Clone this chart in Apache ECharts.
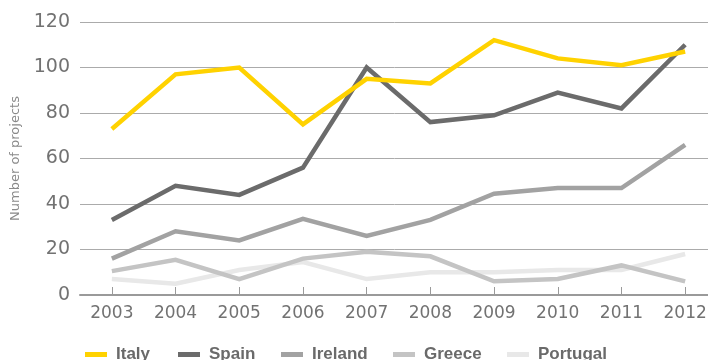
<!DOCTYPE html>
<html>
<head>
<meta charset="utf-8">
<script src="https://cdn.jsdelivr.net/npm/echarts@6/dist/echarts.min.js"></script>
<style>
  html, body { margin: 0; padding: 0; background: #ffffff; }
  #chart { width: 708px; height: 360px; }
</style>
</head>
<body>
<div id="chart"></div>
<script>
// Projects per year by country
const years = ['2003', '2004', '2005', '2006', '2007', '2008', '2009', '2010', '2011', '2012'];
const italy    = [73, 97, 100, 75, 95, 93, 112, 104, 101, 107];
const spain    = [33, 48, 44, 56, 100, 76, 79, 89, 82, 110];
const ireland  = [16, 28, 24, 33.5, 26, 33, 44.5, 47, 47, 66];
const greece   = [10.5, 15.5, 7, 16, 19, 17, 6, 7, 13, 6];
const portugal = [7, 5, 11, 14.5, 7, 10, 10, 11, 11, 18];
const yTicks   = [0, 20, 40, 60, 80, 100, 120];

const seriesDefs = [
  { name: 'Italy',    data: italy,    color: '#ffd200', z: 6 },
  { name: 'Spain',    data: spain,    color: '#6b6b6b', z: 5 },
  { name: 'Ireland',  data: ireland,  color: '#a2a2a2', z: 4 },
  { name: 'Greece',   data: greece,   color: '#c4c4c4', z: 3 },
  { name: 'Portugal', data: portugal, color: '#e8e8e8', z: 2 }
];

// one legend entry per series, laid out in a single row along the bottom
const legendLeft = [80, 173, 276, 388, 502];

const chart = echarts.init(document.getElementById('chart'), null, { renderer: 'canvas' });

chart.setOption({
  animation: false,
  backgroundColor: '#ffffff',
  grid: {
    left: 80,
    right: -9,
    top: 22,
    bottom: 65,
    containLabel: false,
    outerBoundsMode: 'none'
  },
  legend: seriesDefs.map((s, i) => ({
    left: legendLeft[i],
    top: 341,
    icon: 'rect',
    itemWidth: 22,
    itemHeight: 5,
    selectedMode: false,
    textStyle: {
      fontFamily: 'Liberation Sans',
      fontWeight: 'bold',
      fontSize: 17,
      color: '#6a6a6a',
      padding: [0, 0, 0, 4]
    },
    data: [s.name]
  })),
  xAxis: {
    type: 'category',
    data: years,
    boundaryGap: true,
    axisLine: { show: true, lineStyle: { color: '#9a9a9a', width: 2 } },
    axisTick: { show: true, alignWithLabel: true, inside: true, length: 8, lineStyle: { color: '#9a9a9a', width: 1 } },
    axisLabel: {
      fontFamily: 'DejaVu Sans',
      fontSize: 17,
      color: '#727272',
      margin: 10
    },
    splitLine: { show: false }
  },
  yAxis: {
    type: 'value',
    min: yTicks[0],
    max: yTicks[yTicks.length - 1],
    interval: 20,
    name: 'Number of projects',
    nameLocation: 'middle',
    nameGap: 58,
    nameTextStyle: {
      fontFamily: 'DejaVu Sans',
      fontSize: 13,
      color: '#8a8a8a'
    },
    axisLine: { show: false },
    axisTick: { show: false },
    axisLabel: {
      fontFamily: 'DejaVu Sans',
      fontSize: 19,
      color: '#727272',
      margin: 10
    },
    splitLine: { show: true, lineStyle: { color: '#ababab', width: 1 } }
  },
  series: seriesDefs.map(s => ({
    name: s.name,
    type: 'line',
    data: s.data,
    z: s.z,
    color: s.color,
    symbol: 'none',
    showSymbol: false,
    lineStyle: { color: s.color, width: 4.5, cap: 'butt', join: 'miter' },
    itemStyle: { color: s.color },
    emphasis: { disabled: true }
  }))
});
</script>
</body>
</html>
